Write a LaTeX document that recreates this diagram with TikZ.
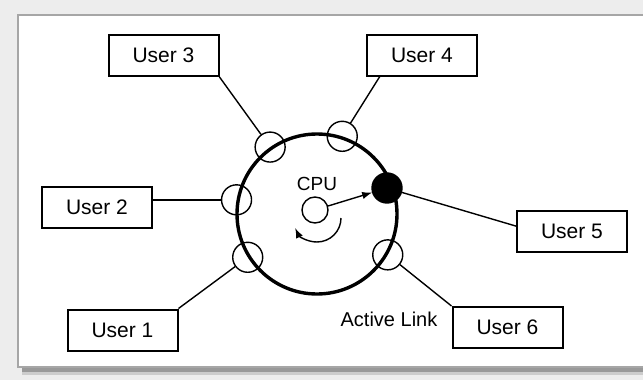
\documentclass[tikz,border=0pt]{standalone}
\usepackage{fontspec}
\setmainfont{Liberation Sans}
\begin{document}
\begin{tikzpicture}[x=0.5pt,y=-0.5pt,
    user/.style={draw,line width=1pt,minimum width=55pt,minimum height=20.5pt,
      inner sep=0pt,font=\fontsize{10.5}{12}\selectfont},
    link/.style={circle,draw,line width=0.7pt,minimum size=15pt,inner sep=0pt},
    wire/.style={line width=0.7pt}]
  \useasboundingbox (0,0) rectangle (643,380);
  % frame
  \fill[black!7] (0,0) rectangle (643,380);
  \fill[black!40] (22,367) rectangle (643,372);
  \fill[black!20] (22,372) rectangle (643,375);
  \fill[white] (18,15) rectangle (643,367);
  \draw[black!35,line width=1pt] (643,15) -- (18,15) -- (18,367) -- (643,367);

  % ring and cpu
  \node[circle,draw,line width=1.7pt,minimum size=80pt,inner sep=0pt] (ring) at (317,214) {};
  \node[circle,draw,line width=0.7pt,minimum size=13pt,inner sep=0pt] (cpu) at (315,210) {};
  \node[font=\fontsize{9.5}{11}\selectfont] (cpulabel) at (317,184) {CPU};

  \node[link] (l3) at (ring.125) {};
  \node[link] (l4) at (ring.72) {};
  \node[link] (l2) at (ring.170) {};
  \node[link] (l1) at (ring.212) {};
  \node[link] (l6) at (ring.330) {};
  \node[link,fill=black] (l5) at (387,188) {};

  % users
  \node[user] (u3) at (163.5,55.5) {User 3};
  \node[user] (u4) at (422,55) {User 4};
  \node[user] (u2) at (97,207.5) {User 2};
  \node[user] (u5) at (572,231) {User 5};
  \node[user] (u1) at (122.5,330) {User 1};
  \node[user] (u6) at (507.5,327.5) {User 6};
  \node[font=\fontsize{10}{12}\selectfont] (active) at (389,319) {Active Link};

  \draw[wire] (u3.south east) -- (l3);
  \draw[wire] (u4.207) -- (l4);
  \draw[wire] (u2.east |- l2) -- (l2);
  \draw[wire] (l5) -- (u5.175);
  \draw[wire] (u1.north east) -- (l1);
  \draw[wire] (l6) -- (u6.north west);

  \draw[wire,-latex] (cpu) -- (l5);
  \coordinate (turn) at (341,218);
  \draw[wire,-latex] (turn) arc[start angle=0,end angle=-155,radius=12pt];
\end{tikzpicture}
\end{document}
